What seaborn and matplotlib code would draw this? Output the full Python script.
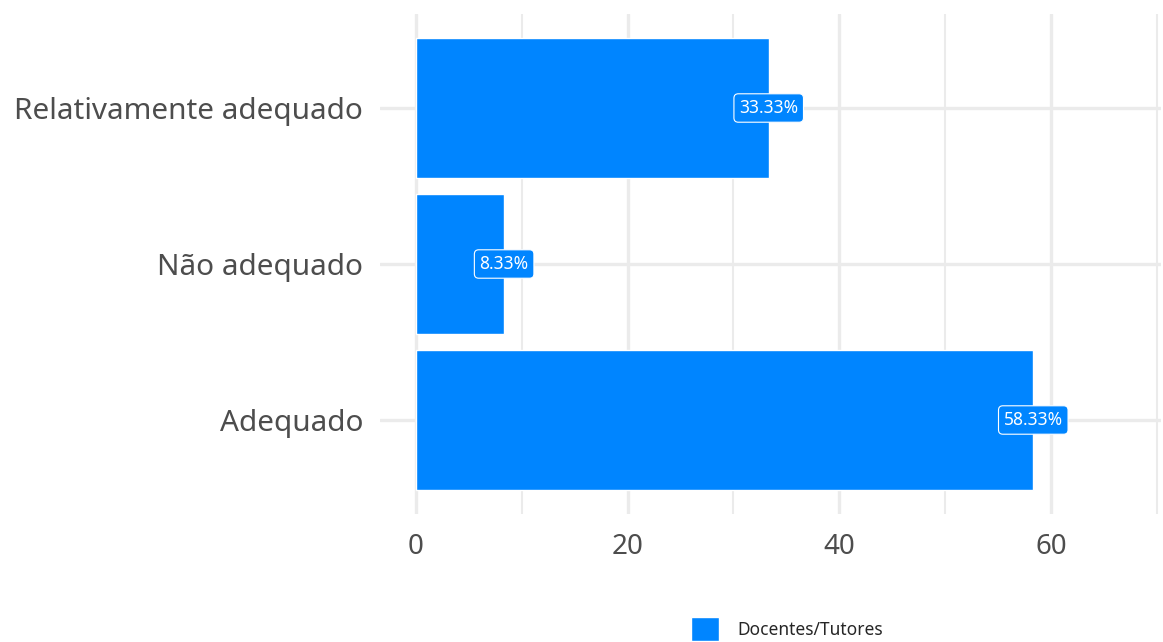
import matplotlib
matplotlib.use("Agg")
import matplotlib.pyplot as plt
import seaborn as sns
import pandas as pd

categories = ["Relativamente adequado", "Não adequado", "Adequado"]
values = [33.33, 8.33, 58.33]
group = "Docentes/Tutores"
bar_color = "#0085FF"

df = pd.DataFrame({"categoria": categories, "pct": values, "grupo": [group] * len(categories)})

sns.set_theme(style="white")
plt.rcParams["font.family"] = ["Noto Sans", "DejaVu Sans"]

fig = plt.figure(figsize=(11.63, 6.42), dpi=100)
ax = fig.add_axes([380 / 1163, 1 - 513.6 / 642, (1161 - 380) / 1163, (513.6 - 14.4) / 642])

sns.barplot(data=df, x="pct", y="categoria", hue="grupo", order=categories,
            palette=[bar_color], width=0.9, orient="h", ax=ax, legend=True,
            saturation=1, zorder=3)

ax.set_xlim(-3.4, 70.4)
ax.set_ylim(2.6, -0.6)
ax.set_xticks([0, 20, 40, 60])
ax.set_xticks([10, 30, 50, 70], minor=True)
ax.grid(axis="x", which="major", color="#ebebeb", linewidth=2.4, zorder=0)
ax.grid(axis="x", which="minor", color="#ebebeb", linewidth=1.5, zorder=0)
ax.grid(axis="y", which="major", color="#ebebeb", linewidth=2.4, zorder=0)
ax.set_axisbelow(True)
for s in ax.spines.values():
    s.set_visible(False)
ax.tick_params(axis="both", which="both", length=0, labelcolor="#4d4d4d")
ax.tick_params(axis="y", labelsize=21.4, pad=12)
ax.tick_params(axis="x", labelsize=20, pad=14)
ax.set_xlabel("")
ax.set_ylabel("")

for i, v in enumerate(values):
    ax.text(v, i, f"{v:.2f}%", ha="center", va="center", color="white", fontsize=12.5,
            zorder=5,
            bbox=dict(boxstyle="round,pad=0.3,rounding_size=0.25", facecolor=bar_color,
                      edgecolor="white", linewidth=0.8))

leg = ax.legend(loc="center", bbox_to_anchor=(787 / 1163, 1 - 629 / 642),
                bbox_transform=fig.transFigure,
                frameon=False, fontsize=12.5, handlelength=1.6, handleheight=1.7,
                handletextpad=1.1, borderpad=0)
leg.get_title().set_visible(False)

fig.savefig("out.png", dpi=100, facecolor="white")
